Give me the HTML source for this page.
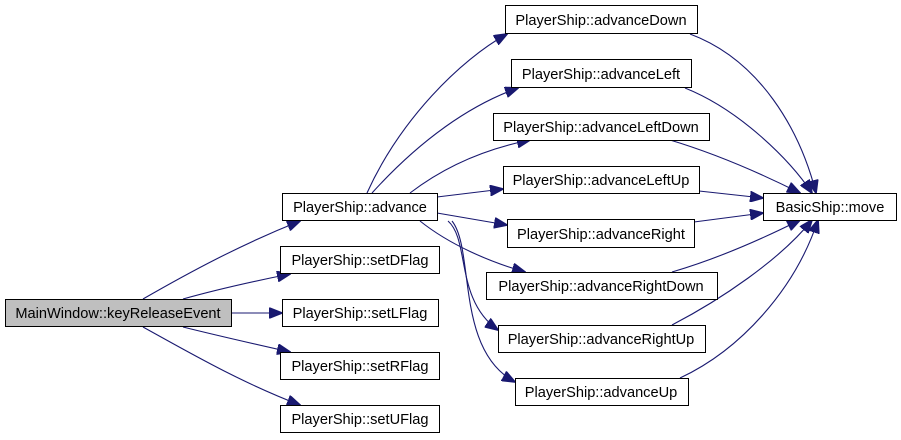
<!DOCTYPE html>
<html><head><meta charset="utf-8"><style>
html,body{margin:0;padding:0;background:#fff;}
svg{display:block;}
text{font-family:"Liberation Sans",Arial,sans-serif;font-size:14.6px;fill:#000;}
</style></head><body>
<svg width="901" height="440" viewBox="0 0 901 440" xmlns="http://www.w3.org/2000/svg">
<defs>
<marker id="a" markerWidth="14" markerHeight="11" refX="13" refY="5.5" orient="auto" markerUnits="userSpaceOnUse">
<path d="M0,0 L14,5.5 L0,11 Z" fill="#191970" stroke="#191970"/>
</marker>
</defs>
<g fill="none" stroke="#191970" stroke-width="1.1" marker-end="url(#a)">
<path d="M143,299 C190,272 240,245 300,221"/>
<path d="M183,299 C215,290 250,282 290,274"/>
<path d="M231,313 L282,313"/>
<path d="M183,327 C215,335 250,343 290,352"/>
<path d="M143,327 C190,353 240,382 300,405"/>
<path d="M367,193 C400,120 460,60 507,34"/>
<path d="M372,193 C420,140 470,105 518,88"/>
<path d="M410,193 C440,170 480,150 530,140"/>
<path d="M437,197 L503,189"/>
<path d="M437,213 L507,225"/>
<path d="M420,221 C450,245 490,262 525,272"/>
<path d="M448,221 C470,240 455,300 498,330"/>
<path d="M452,221 C475,250 455,350 515,382"/>
<path d="M690,34 C760,60 800,130 816,193"/>
<path d="M685,88 C740,110 790,160 812,193"/>
<path d="M670,140 C720,155 770,178 800,193"/>
<path d="M699,191 L763,198"/>
<path d="M694,222 L763,213"/>
<path d="M672,272 C720,258 770,235 800,220"/>
<path d="M672,325 C720,300 780,260 812,220"/>
<path d="M680,378 C740,350 795,290 818,220"/>
</g>
<g stroke="#000" stroke-width="1" fill="#fff">
<rect x="5.5" y="299.5" width="226" height="27" fill="#bfbfbf"/>
<rect x="282.5" y="193.5" width="155" height="27"/>
<rect x="280.5" y="246.5" width="159" height="27"/>
<rect x="282.5" y="299.5" width="156" height="27"/>
<rect x="280.5" y="352.5" width="159" height="27"/>
<rect x="280.5" y="405.5" width="159" height="27"/>
<rect x="505.5" y="5.5" width="192" height="28"/>
<rect x="511.5" y="59.5" width="180" height="28"/>
<rect x="493.5" y="113.5" width="216" height="27"/>
<rect x="503.5" y="166.5" width="196" height="27"/>
<rect x="507.5" y="219.5" width="187" height="28"/>
<rect x="486.5" y="272.5" width="231" height="27"/>
<rect x="498.5" y="325.5" width="207" height="27"/>
<rect x="515.5" y="378.5" width="173" height="27"/>
<rect x="763.5" y="193.5" width="133" height="27"/>
</g>
<g text-anchor="middle">
<text x="118" y="318">MainWindow::keyReleaseEvent</text>
<text x="360" y="212">PlayerShip::advance</text>
<text x="360" y="265">PlayerShip::setDFlag</text>
<text x="360" y="318">PlayerShip::setLFlag</text>
<text x="360" y="371">PlayerShip::setRFlag</text>
<text x="360" y="424">PlayerShip::setUFlag</text>
<text x="601" y="25">PlayerShip::advanceDown</text>
<text x="601" y="79">PlayerShip::advanceLeft</text>
<text x="601" y="132">PlayerShip::advanceLeftDown</text>
<text x="601" y="185">PlayerShip::advanceLeftUp</text>
<text x="601" y="239">PlayerShip::advanceRight</text>
<text x="601" y="291">PlayerShip::advanceRightDown</text>
<text x="601" y="344">PlayerShip::advanceRightUp</text>
<text x="601" y="397">PlayerShip::advanceUp</text>
<text x="830" y="212">BasicShip::move</text>
</g>
</svg>
</body></html>
